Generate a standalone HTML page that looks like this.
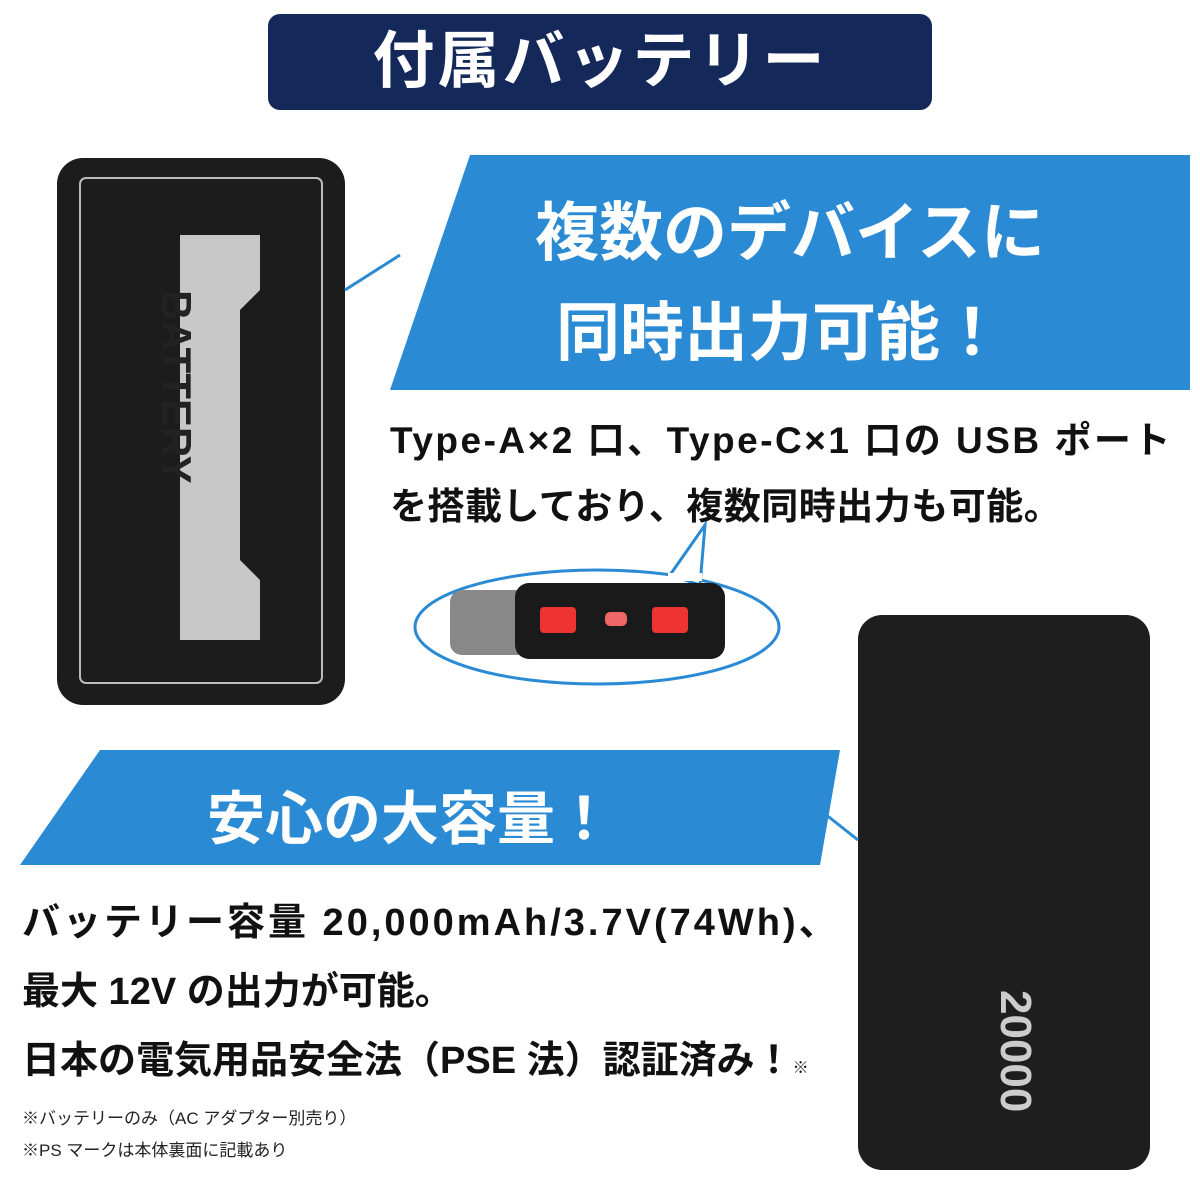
<!DOCTYPE html>
<html><head><meta charset="utf-8"><style>
body{margin:0;width:1200px;height:1200px;background:#fff;position:relative;overflow:hidden;font-family:"Liberation Sans","Noto Sans CJK JP",sans-serif;}
.a{position:absolute;}
.t{font-weight:bold;color:#111;white-space:nowrap;}
</style></head><body>
<div class="a" style="left:268px;top:14px;width:664px;height:96px;background:#14285a;border-radius:12px;"></div>
<div class="a t" style="left:268px;top:14px;width:664px;height:96px;line-height:96px;text-align:center;color:#fff;font-size:62px;letter-spacing:3px;">付属バッテリー</div>

<svg class="a" style="left:0;top:0" width="1200" height="1200">
<polygon points="470,155 1190,155 1190,390 390,390" fill="#2a8ad4"/>
<polygon points="100,750 840,750 820,865 20,865" fill="#2a8ad4"/>
<rect x="57" y="158" width="288" height="547" rx="26" fill="#1c1c1c"/>
<rect x="80" y="178" width="242" height="505" rx="6" fill="none" stroke="#bbb" stroke-width="2"/>
<polygon points="180,235 260,235 260,290 240,310 240,560 260,580 260,640 180,640" fill="#c8c8c8"/>
<rect x="858" y="615" width="292" height="555" rx="24" fill="#1e1e1e"/>
<ellipse cx="597" cy="627" rx="182" ry="57" fill="#fff" stroke="#2a8ad4" stroke-width="3"/>
<polygon points="670,575 705,525 700,585" fill="#fff" stroke="#2a8ad4" stroke-width="3"/>
<rect x="668" y="573" width="34" height="8" fill="#fff"/>
<rect x="450" y="590" width="80" height="65" rx="12" fill="#888"/>
<rect x="515" y="583" width="210" height="76" rx="14" fill="#1a1a1a"/>
<rect x="540" y="607" width="36" height="26" rx="4" fill="#e33"/>
<rect x="605" y="612" width="22" height="14" rx="5" fill="#e66"/>
<rect x="652" y="607" width="36" height="26" rx="4" fill="#e33"/>
<line x1="345" y1="290" x2="400" y2="255" stroke="#2a8ad4" stroke-width="3"/>
<line x1="820" y1="810" x2="858" y2="840" stroke="#2a8ad4" stroke-width="3"/>
</svg>

<div class="a t" style="left:430px;top:182px;width:720px;text-align:center;color:#fff;font-size:64px;">複数のデバイスに</div>
<div class="a t" style="left:420px;top:282px;width:720px;text-align:center;color:#fff;font-size:64px;">同時出力可能！</div>
<div class="a t" style="left:390px;top:410px;font-size:37px;letter-spacing:2.5px;">Type-A×2 口、Type-C×1 口の USB ポート</div>
<div class="a t" style="left:390px;top:476px;font-size:37px;letter-spacing:0.5px;">を搭載しており、複数同時出力も可能。</div>
<div class="a t" style="left:60px;top:772px;width:700px;text-align:center;color:#fff;font-size:58px;">安心の大容量！</div>
<div class="a t" style="left:22px;top:891px;font-size:38px;letter-spacing:3px;">バッテリー容量 20,000mAh/3.7V(74Wh)、</div>
<div class="a t" style="left:22px;top:960px;font-size:38px;">最大 12V の出力が可能。</div>
<div class="a t" style="left:22px;top:1029px;font-size:38px;">日本の電気用品安全法（PSE 法）認証済み！<span style="font-size:16px">※</span></div>
<div class="a" style="left:22px;top:1104px;font-size:17px;color:#222;">※バッテリーのみ（AC アダプター別売り）</div>
<div class="a" style="left:22px;top:1136px;font-size:17px;color:#222;">※PS マークは本体裏面に記載あり</div>
<div class="a t" style="left:1040px;top:990px;font-size:44px;color:#ccc;transform:rotate(90deg);transform-origin:left top;">20000</div>
<div class="a t" style="left:200px;top:290px;font-size:42px;color:#222;transform:rotate(90deg);transform-origin:left top;">BATTERY</div>
</body></html>
